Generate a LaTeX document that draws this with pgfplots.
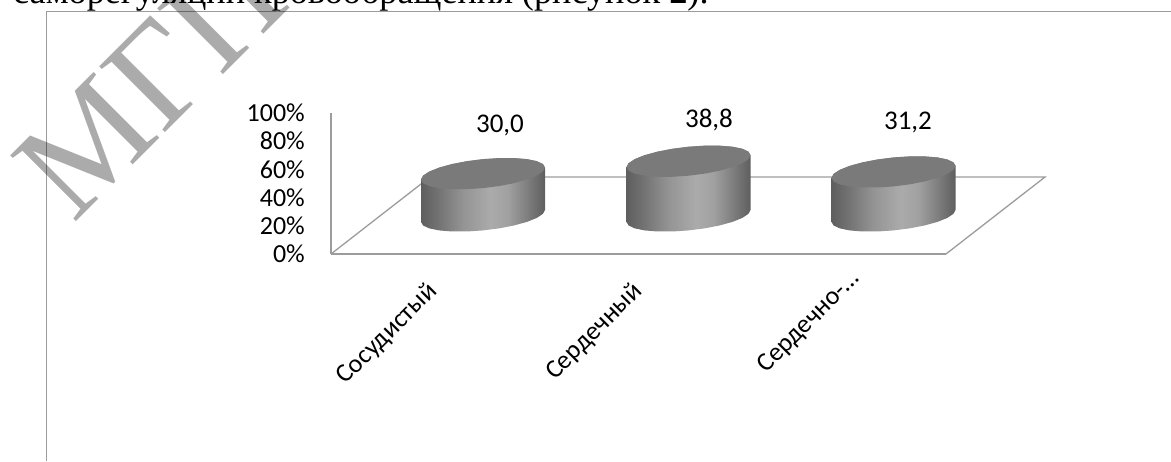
\documentclass[border=0pt]{standalone}
\usepackage{fontspec}
\setmainfont{Carlito}
\newfontfamily\bodyserif{Liberation Serif}
\usepackage{pgfplots}
\usepackage{pgfplotstable}
\pgfplotsset{compat=1.18}

\definecolor{framegray}{HTML}{9C9C9C}
\definecolor{capgray}{HTML}{7A7A7A}
\pgfdeclarehorizontalshading{cylbody}{100bp}{
  color(0bp)=(black!63);
  color(25bp)=(black!63);
  color(32bp)=(black!55);
  color(42bp)=(black!42);
  color(53bp)=(black!33);
  color(60bp)=(black!37);
  color(67bp)=(black!49);
  color(75bp)=(black!63);
  color(100bp)=(black!63)}

% Offsets of a tilted cylinder rim: dx in points, dy in percent of the value axis.
\pgfplotstableread{
dx dy
62.0 4.26
59.9 6.78
53.7 8.83
43.8 10.28
31.0 11.03
16.0 11.03
0.0 10.28
-16.0 8.83
-31.0 6.77
-43.8 4.26
-53.7 1.45
-59.9 -1.45
-62.0 -4.26
-59.9 -6.78
-53.7 -8.83
-43.8 -10.28
-31.0 -11.03
-16.0 -11.03
0.0 -10.28
16.0 -8.83
31.0 -6.77
43.8 -4.26
53.7 -1.45
59.9 1.45
}\rimtable

% Silhouette of the cylinder side: lower half of the base rim (cap 0), then upper half of the top rim (cap 1).
\pgfplotstableread{
dx dy cap
-62.0 -4.26 0
-59.9 -6.78 0
-53.7 -8.83 0
-43.8 -10.28 0
-31.0 -11.03 0
-16.0 -11.03 0
0.0 -10.28 0
16.0 -8.83 0
31.0 -6.77 0
43.8 -4.26 0
53.7 -1.45 0
59.9 1.45 0
62.0 4.26 0
62.0 4.26 1
59.9 6.78 1
53.7 8.83 1
43.8 10.28 1
31.0 11.03 1
16.0 11.03 1
0.0 10.28 1
-16.0 8.83 1
-31.0 6.77 1
-43.8 4.26 1
-53.7 1.45 1
-59.9 -1.45 1
-62.0 -4.26 1
}\sidetable

\newcommand{\basefloat}{27}

% #1 centre, #2 value, #3 and #4 position of the value label
\newcommand{\cylinder}[4]{
  \addplot[draw=none, shade, shading=cylbody, shading angle=0]
    table[x expr=\thisrow{dx}+#1, y expr=\thisrow{dy}+\basefloat+\thisrow{cap}*#2] {\sidetable} -- cycle;
  \addplot[draw=none, fill=capgray]
    table[x expr=\thisrow{dx}+#1, y expr=\thisrow{dy}+\basefloat+#2] {\rimtable} -- cycle;
  \addplot[draw=none, mark=none, point meta=explicit, nodes near coords,
    every node near coord/.style={anchor=center, font=\fontsize{27}{32}\selectfont, inner sep=0pt},
    /pgf/number format/.cd, fixed, fixed zerofill, precision=1, use comma, assume math mode=true]
    coordinates {(#3,#4) [#2]};
}

\begin{document}
\begin{tikzpicture}[x=1pt,y=1pt]
  \path[use as bounding box] (0,0) rectangle (1171,461);

  % running text of the page above the figure
  \begin{scope}
    \clip (0,0) rectangle (1171,461);
    \node[anchor=base west, inner sep=0pt, font=\bodyserif\fontsize{36.2}{40}\selectfont] at (13,457)
      {саморегуляции кровообращения (рисунок \textbf{2}).};
  \end{scope}

  % figure frame
  \draw[framegray, line width=1.1pt] (46.5,0) -- (46.5,449.5) -- (1171,449.5);

  \begin{axis}[
    at={(331pt,207pt)}, anchor=south west,
    scale only axis, width=615pt, height=141pt,
    xmin=0, xmax=615, ymin=0, ymax=100,
    clip=false,
    axis x line=bottom, axis y line=left,
    x axis line style={-, draw=framegray, line width=1.3pt},
    y axis line style={-, draw=framegray, line width=1.3pt},
    major tick length=0pt,
    xtick={102.5,307.5,512.5},
    xticklabels={Сосудистый,Сердечный,Сердечно-…\kern-18pt},
    ytick={0,20,40,60,80,100},
    yticklabels={0\%,20\%,40\%,60\%,80\%,100\%},
    tick label style={font=\fontsize{26}{30}\selectfont},
    yticklabel style={inner xsep=0pt, xshift=-26pt},
    xticklabel style={rotate=45, anchor=east, inner sep=0pt, xshift=-24pt, yshift=-24pt},
  ]
    % floor of the chart
    \addplot[framegray, line width=1.3pt, mark=none]
      coordinates {(0,0) (99,54.6) (714,54.6) (615,0)};

    \cylinder{152}{30.0}{169}{91.5}
    \cylinder{357.5}{38.8}{378}{95}
    \cylinder{562.5}{31.2}{577}{93.6}
  \end{axis}

  % publisher's stamp across the page
  \begin{scope}
    \clip (0,0) rectangle (1171,461);
    \node[anchor=base west, inner sep=0pt, rotate=45, text opacity=0.33,
          font=\bodyserif\fontsize{142}{150}\selectfont] at (73,236) {МГПУ};
  \end{scope}
\end{tikzpicture}
\end{document}
